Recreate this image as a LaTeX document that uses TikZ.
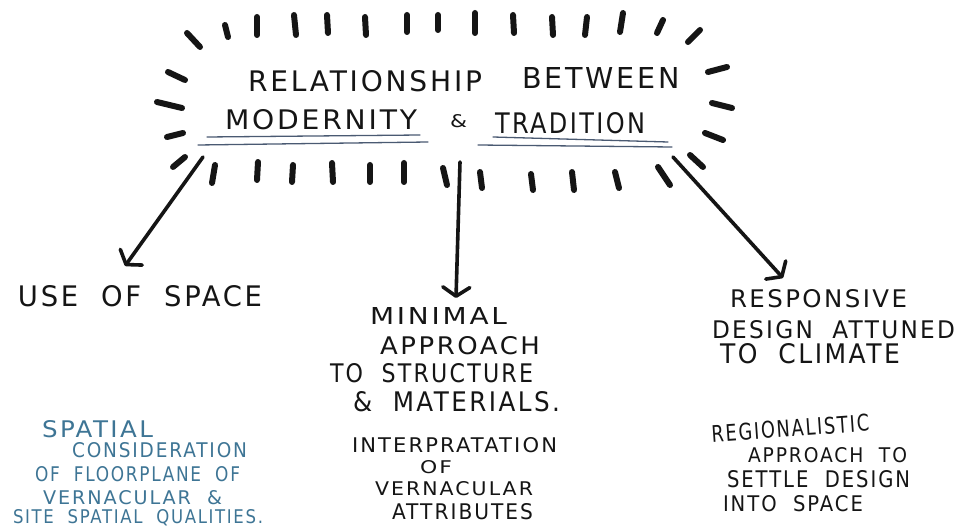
\documentclass[tikz,border=0pt]{standalone}
\usepackage{fontspec}
\setmainfont{DejaVu Sans}[LetterSpace=10,WordSpace=2]
\usepackage{graphicx}
\usetikzlibrary{arrows.meta}
\definecolor{ink}{HTML}{151515}
\definecolor{penblue}{HTML}{3E7595}
\definecolor{ulgray}{HTML}{4A5A72}
\newcommand{\fitline}[3]{\resizebox{#1pt}{#2pt}{#3}}
\tikzset{
  txt/.style={anchor=base west, inner sep=0pt, outer sep=0pt, text=ink},
  bluetxt/.style={txt, text=penblue},
  tick/.style={line width=6pt, line cap=round, draw=ink},
  uline/.style={line width=1.3pt, draw=ulgray, line cap=round},
  bigarrow/.style={line width=3.6pt, draw=ink, line cap=round,
    -{Straight Barb[length=9pt,width=27pt,line cap=round,line join=round]}}
}
\begin{document}
\begin{tikzpicture}[x=1pt,y=-1pt]
\useasboundingbox (0,0) rectangle (956,529);
\fill[white] (0,0) rectangle (956,529);

% ring of ticks
\foreach \a/\b/\c/\d in {187/33/200/47, 225/25/228/37, 257/17/257/35, 294/15/296/35,
  327/15/328/33, 365/17/366/35, 407/15/407/32, 438/15/438/30, 475/13/475/33,
  513/15/514/33, 552/17/553/35, 587/17/585/35, 623/13/620/32, 663/20/657/33,
  700/30/688/42,
  168/72/185/80, 157/102/182/108, 167/137/183/133, 173/167/185/157,
  727/67/708/72, 712/103/732/108, 705/133/723/140, 690/155/703/167,
  215/165/212/183, 258/162/257/180, 293/165/292/182, 332/163/333/182,
  370/165/370/182, 404/163/404/182, 443/168/447/185, 480/172/482/188,
  531/174/533/190, 572/172/574/190, 615/172/619/188, 658/167/670/185}
  \draw[tick] (\a,\b) -- (\c,\d);

% title
\node[txt] (rel) at (248,92) {\fitline{234}{21}{RELATIONSHIP}};
\node[txt] (betw) at (522,89) {\fitline{158}{21}{BETWEEN}};
\node[txt] (mod) at (225,130) {\fitline{192}{20}{MODERNITY}};
\node[txt] (amp) at (450,128) {\fitline{17}{13}{\&}};
\node[txt] (trad) at (495,134) {\fitline{150}{21}{TRADITION}};
\draw[uline] (207,137) -- (420,135);
\draw[uline] (198,145) -- (428,142);
\draw[uline] (493,137) -- (668,142);
\draw[uline] (478,145) -- (672,147);

% main labels
\node[txt] (use) at (18,307) {\fitline{244}{21}{USE OF SPACE}};

\node[txt] (min1) at (370,325) {\fitline{137}{17}{MINIMAL}};
\node[txt] (min2) at (380,355) {\fitline{160}{18}{APPROACH}};
\node[txt] (min3) at (330,382) {\fitline{203}{19}{TO STRUCTURE}};
\node[txt] (min4) at (353,411) {\fitline{207}{20}{\& MATERIALS.}};

\node[txt] (res1) at (730,308) {\fitline{177}{18}{RESPONSIVE}};
\node[txt] (res2) at (712,338) {\fitline{243}{18}{DESIGN ATTUNED}};
\node[txt] (res3) at (720,363) {\fitline{180}{20}{TO CLIMATE}};

% sub labels
\node[bluetxt] (sp1) at (42,437) {\fitline{111}{17}{SPATIAL}};
\node[bluetxt] (sp2) at (72,457) {\fitline{175}{15}{CONSIDERATION}};
\node[bluetxt] (sp3) at (35,481) {\fitline{205}{15}{OF FLOORPLANE OF}};
\node[bluetxt] (sp4) at (43,504) {\fitline{179}{14}{VERNACULAR \&}};
\node[bluetxt] (sp5) at (13,523) {\fitline{250}{14}{SITE SPATIAL QUALITIES.}};

\node[txt] (in1) at (352,452) {\fitline{205}{15}{INTERPRATATION}};
\node[txt] (in2) at (420,473) {\fitline{32}{13}{OF}};
\node[txt] (in3) at (375,495) {\fitline{158}{14}{VERNACULAR}};
\node[txt] (in4) at (392,519) {\fitline{141}{16}{ATTRIBUTES}};

\node[txt, rotate=4] (reg1) at (712,442) {\fitline{158}{17}{REGIONALISTIC}};
\node[txt] (reg2) at (748,462) {\fitline{159}{15}{APPROACH TO}};
\node[txt] (reg3) at (727,487) {\fitline{183}{17}{SETTLE DESIGN}};
\node[txt] (reg4) at (723,511) {\fitline{140}{16}{INTO SPACE}};

% arrows
\coordinate (a1s) at (203,157);
\coordinate (a1e) at (125,266);
\coordinate (a2s) at (460,162);
\coordinate (a2e) at (456,298);
\coordinate (a3s) at (673,157);
\coordinate (a3e) at (783,278);
\draw[bigarrow] (a1s) -- (a1e);
\draw[bigarrow] (a2s) -- (a2e);
\draw[bigarrow] (a3s) -- (a3e);
\end{tikzpicture}
\end{document}
